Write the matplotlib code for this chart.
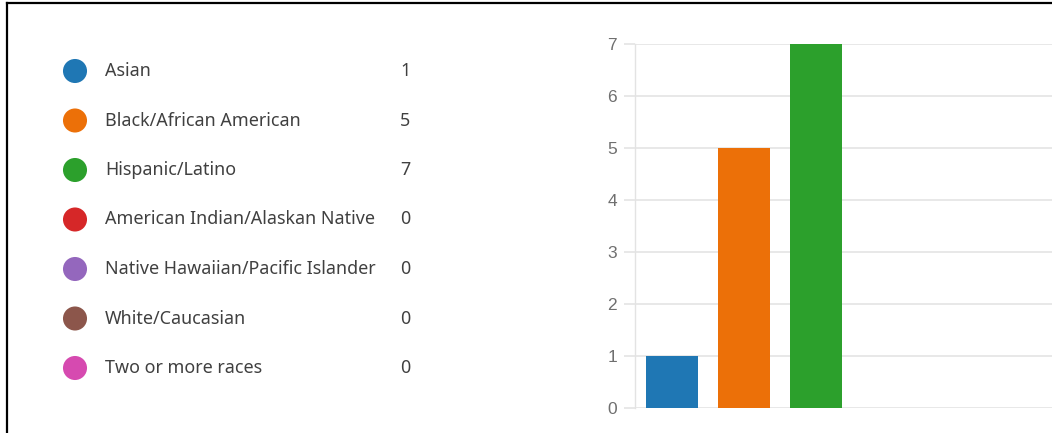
import matplotlib
matplotlib.use("Agg")
import matplotlib.pyplot as plt
from matplotlib.lines import Line2D

categories = ["Asian", "Black/African American", "Hispanic/Latino",
              "American Indian/Alaskan Native", "Native Hawaiian/Pacific Islander",
              "White/Caucasian", "Two or more races"]
counts = [1, 5, 7, 0, 0, 0, 0]
colors = ["#1f77b4", "#ec7008", "#2ca02c", "#d62728", "#9467bd", "#8c564b", "#d64ab0"]
yticks = [0, 1, 2, 3, 4, 5, 6, 7]

W, H = 1052, 433
fig = plt.figure(figsize=(W / 100, H / 100), dpi=100)
fig.patch.set_facecolor("white")

# bar chart axes (extends past the right edge like the cropped screenshot)
left_px, right_px = 635, 1141
bottom_px, top_px = 408, 44
ax = fig.add_axes([left_px / W, (H - bottom_px) / H,
                   (right_px - left_px) / W, (bottom_px - top_px) / H])
x = list(range(len(categories)))
ax.bar(x, counts, width=0.722, color=colors, zorder=3)
ax.set_xlim(-0.514, len(categories) - 0.486)
ax.set_ylim(0, 7)
ax.set_yticks(yticks)
ax.set_yticklabels([str(v) for v in yticks], fontfamily="Liberation Sans",
                   fontsize=12.5, color="#6f6f6f")
ax.set_xticks([])
ax.grid(axis="y", color="#e6e6e6", linewidth=1.3, zorder=0)
for s in ["top", "right", "bottom"]:
    ax.spines[s].set_visible(False)
ax.spines["left"].set_color("#e3e3e3")
ax.spines["left"].set_linewidth(1.0)
ax.tick_params(axis="y", length=8, width=1.3, color="#e6e6e6", pad=5)

# legend axes in pixel coordinates
lax = fig.add_axes([0, 0, 1, 1], zorder=-1)
lax.set_xlim(0, W)
lax.set_ylim(H, 0)
lax.axis("off")
row_y = [71 + 49.5 * i for i in range(len(categories))]
lax.scatter([75] * len(categories), row_y, s=300, c=colors, linewidths=0)
for yy, cat, val in zip(row_y, categories, counts):
    lax.text(105, yy, cat, va="center", ha="left", fontsize=12.9,
             fontfamily="Noto Sans", color="#404040")
    lax.text(400, yy, str(val), va="center", ha="left", fontsize=12.9,
             fontfamily="Noto Sans", color="#404040")

# screenshot border
fig.add_artist(Line2D([7 / W, 1], [1 - 3 / H, 1 - 3 / H], color="black",
                      linewidth=1.6, transform=fig.transFigure))
fig.add_artist(Line2D([7 / W, 7 / W], [1 - 3 / H, 0], color="black",
                      linewidth=1.6, transform=fig.transFigure))

fig.savefig("out.png", dpi=100, facecolor="white")
